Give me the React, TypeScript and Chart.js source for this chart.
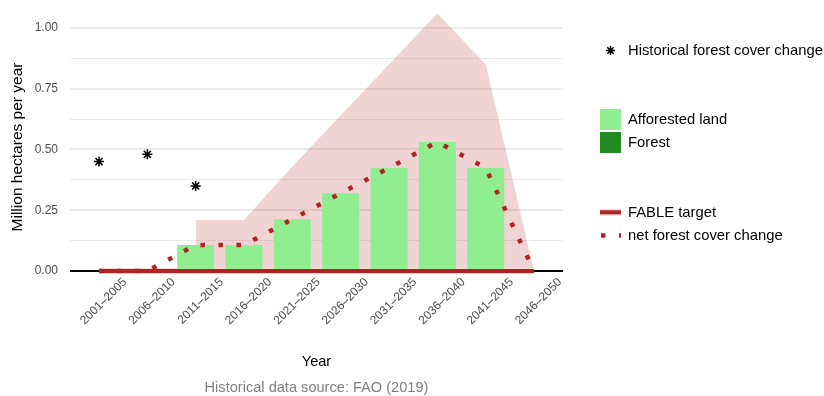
import React, { useEffect, useRef } from 'react';
import { Chart, registerables } from 'chart.js';

Chart.register(...registerables);

const FAMILY = '"Liberation Sans", Arial, Helvetica, sans-serif';

// ---- data ----
const categories = ['2001–2005', '2006–2010', '2011–2015', '2016–2020', '2021–2025', '2026–2030', '2031–2035', '2036–2040', '2041–2045', '2046–2050'];
const historicalChange = [0.45, 0.48, 0.35, null, null, null, null, null, null, null];
const afforestedLand = [0, 0, 0.107, 0.107, 0.213, 0.32, 0.424, 0.531, 0.424, 0];
const forestLand = [0, 0, 0, 0, 0, 0, 0, 0, 0, 0];
const fableTarget = [0, 0, 0, 0, 0, 0, 0, 0, 0, 0];
const netForestChange = [0, 0, 0.107, 0.107, 0.213, 0.32, 0.424, 0.531, 0.424, 0];
const targetRangeUpper = [null, null, 0.21, 0.21, 0.43, 0.64, 0.85, 1.06, 0.85, 0];
const targetBandUpper = [0.012, 0.012, 0.012, null, null, null, null, null, null, null];
const targetRangeLower = -0.012;
const yTickValues = [0, 0.125, 0.25, 0.375, 0.5, 0.625, 0.75, 0.875, 1.0];
const yTickLabels = ['0.00', '', '0.25', '', '0.50', '', '0.75', '', '1.00'];

const FIREBRICK = '#B22222';
const RIBBON = 'rgba(178,34,34,0.2)';
const LIGHTGREEN = '#90EE90';
const FORESTGREEN = '#228B22';

const toXY = (arr: (number | null)[]) => arr.map((v, i) => ({ x: i, y: v }));

function drawStar(ctx: CanvasRenderingContext2D, x: number, y: number, r: number) {
  ctx.beginPath();
  ctx.moveTo(x - r, y); ctx.lineTo(x + r, y);
  ctx.moveTo(x, y - r); ctx.lineTo(x, y + r);
  const d = r * Math.SQRT1_2;
  ctx.moveTo(x - d, y - d); ctx.lineTo(x + d, y + d);
  ctx.moveTo(x - d, y + d); ctx.lineTo(x + d, y - d);
  ctx.stroke();
}

const extrasPlugin = {
  id: 'extras',
  afterDraw(chart: any) {
    const ctx: CanvasRenderingContext2D = chart.ctx;
    const ca = chart.chartArea;
    ctx.save();
    // y-axis title
    ctx.font = `15.5px ${FAMILY}`;
    ctx.fillStyle = '#000';
    ctx.textAlign = 'center';
    ctx.textBaseline = 'middle';
    ctx.save();
    ctx.translate(18, 147);
    ctx.rotate(-Math.PI / 2);
    ctx.fillText('Million hectares per year', 0, 0);
    ctx.restore();

    // caption
    ctx.font = `14.6px ${FAMILY}`;
    ctx.fillStyle = '#7F7F7F';
    ctx.fillText('Historical data source: FAO (2019)', (ca.left + ca.right) / 2, 388);

    // legend
    ctx.font = `14.8px ${FAMILY}`;
    const kx = ca.right + 37;
    const kw = 21;
    const tx = kx + 28;
    ctx.textAlign = 'left';

    ctx.strokeStyle = '#000';
    ctx.lineWidth = 1.5;
    drawStar(ctx, kx + kw / 2, 50.5, 4.5);
    ctx.fillStyle = '#000';
    ctx.fillText('Historical forest cover change', tx, 50.5);

    ctx.fillStyle = LIGHTGREEN;
    ctx.fillRect(kx, 109, kw, 21);
    ctx.fillStyle = FORESTGREEN;
    ctx.fillRect(kx, 132, kw, 21);
    ctx.fillStyle = '#000';
    ctx.fillText('Afforested land', tx, 120);
    ctx.fillText('Forest', tx, 143);

    ctx.fillStyle = RIBBON;
    ctx.fillRect(kx, 209, kw, 6.5);
    ctx.strokeStyle = FIREBRICK;
    ctx.lineWidth = 4;
    ctx.beginPath();
    ctx.moveTo(kx, 212.3); ctx.lineTo(kx + kw, 212.3);
    ctx.stroke();
    ctx.fillStyle = '#000';
    ctx.fillText('FABLE target', tx, 212.5);

    ctx.setLineDash([4.5, 13.5]);
    ctx.lineWidth = 4.5;
    ctx.beginPath();
    ctx.moveTo(kx + 1, 235.5); ctx.lineTo(kx + kw, 235.5);
    ctx.stroke();
    ctx.setLineDash([]);
    ctx.fillText('net forest cover change', tx, 236);
    ctx.restore();
  },
};

export default function App() {
  const ref = useRef<HTMLCanvasElement | null>(null);
  useEffect(() => {
    if (!ref.current) return;
    Chart.defaults.font.family = FAMILY;
    const chart = new Chart(ref.current, {
      type: 'bar',
      data: {
        datasets: [
          {
            type: 'line',
            label: 'Historical forest cover change',
            data: toXY(historicalChange),
            showLine: false,
            pointStyle: 'star',
            pointRadius: 5,
            pointBorderWidth: 1.5,
            pointBorderColor: '#000',
            pointBackgroundColor: '#000',
            borderColor: '#000',
            order: 0,
          } as any,
          {
            type: 'line',
            label: 'net forest cover change',
            data: toXY(netForestChange),
            borderColor: FIREBRICK,
            borderWidth: 4.5,
            borderDash: [4.5, 13.5],
            borderCapStyle: 'butt',
            pointRadius: 0,
            tension: 0,
            fill: false,
            order: 1,
          } as any,
          {
            type: 'line',
            label: 'FABLE target',
            data: toXY(fableTarget),
            borderColor: FIREBRICK,
            borderWidth: 4,
            pointRadius: 0,
            fill: false,
            order: 2,
          } as any,
          {
            type: 'bar',
            label: 'Forest',
            data: toXY(forestLand),
            backgroundColor: FORESTGREEN,
            borderWidth: 0,
            stack: 'land',
            barPercentage: 0.766,
            categoryPercentage: 1,
            order: 3,
          } as any,
          {
            type: 'bar',
            label: 'Afforested land',
            data: toXY(afforestedLand),
            backgroundColor: LIGHTGREEN,
            borderWidth: 0,
            stack: 'land',
            barPercentage: 0.766,
            categoryPercentage: 1,
            order: 4,
          } as any,
          {
            type: 'line',
            label: 'FABLE target range',
            data: toXY(targetRangeUpper),
            borderWidth: 0,
            borderColor: 'rgba(0,0,0,0)',
            backgroundColor: RIBBON,
            pointRadius: 0,
            fill: { value: targetRangeLower },
            order: 5,
          } as any,
          {
            type: 'line',
            label: 'FABLE target band',
            data: toXY(targetBandUpper),
            borderWidth: 0,
            borderColor: 'rgba(0,0,0,0)',
            backgroundColor: RIBBON,
            pointRadius: 0,
            fill: { value: targetRangeLower },
            order: 6,
          } as any,
        ],
      },
      options: {
        responsive: false,
        animation: false,
        layout: { autoPadding: false, padding: { left: 0, right: 261, top: 0, bottom: 0 } },
        plugins: {
          legend: { display: false },
          tooltip: { enabled: false },
        },
        scales: {
          x: {
            type: 'linear',
            min: -0.6,
            max: 9.6,
            offset: false,
            afterBuildTicks: (s: any) => {
              s.ticks = categories.map((_, i) => ({ value: i }));
            },
            afterFit: (s: any) => {
              s.height = 121.4;
              s.paddingLeft = 0;
              s.paddingRight = 0;
              s.paddingTop = 0;
              s.paddingBottom = 0;
            },
            ticks: {
              autoSkip: false,
              minRotation: 45,
              maxRotation: 45,
              labelOffset: 26,
              padding: 0.5,
              color: '#4D4D4D',
              font: { size: 12, family: FAMILY },
              callback: (v: any) => categories[v as number] ?? '',
            },
            grid: { display: false, drawTicks: false },
            border: { display: false },
            title: {
              display: true,
              text: 'Year',
              color: '#000',
              font: { size: 14.5, family: FAMILY },
              padding: { top: 0, bottom: 25 },
            },
          },
          y: {
            type: 'linear',
            min: -0.015,
            max: 1.115,
            afterBuildTicks: (s: any) => {
              s.ticks = yTickValues.map((v) => ({ value: v }));
            },
            afterFit: (s: any) => {
              s.width = 70;
              s.paddingLeft = 0;
              s.paddingRight = 0;
              s.paddingTop = 0;
              s.paddingBottom = 0;
            },
            ticks: {
              padding: 12,
              color: '#4D4D4D',
              font: { size: 12, family: FAMILY },
              callback: (_v: any, i: number) => yTickLabels[i] ?? '',
            },
            grid: {
              drawTicks: false,
              color: (c: any) => (c.tick && c.tick.value === 0 ? '#000' : '#EBEBEB'),
              lineWidth: (c: any) => {
                if (!c.tick) return 1;
                if (c.tick.value === 0) return 2;
                return yTickLabels[c.index] ? 2 : 1;
              },
            },
            border: { display: false },
            title: { display: false },
          },
        },
      } as any,
      plugins: [extrasPlugin],
    });
    return () => chart.destroy();
  }, []);

  return (
    <div style={{ position: 'fixed', left: 0, top: 0, width: 824, height: 396, background: '#fff' }}>
      <canvas ref={ref} width={824} height={396} />
    </div>
  );
}
